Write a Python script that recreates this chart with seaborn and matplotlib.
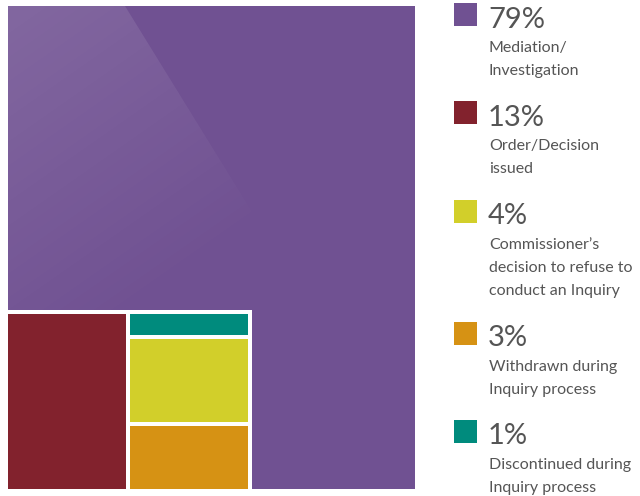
import numpy as np
import matplotlib
matplotlib.use("Agg")
import matplotlib.pyplot as plt
from matplotlib.patches import Polygon
import seaborn as sns

# ---- data ----
categories = ["Mediation/\nInvestigation",
              "Order/Decision\nissued",
              "Commissioner\u2019s\ndecision to refuse to\nconduct an Inquiry",
              "Withdrawn during\nInquiry process",
              "Discontinued during\nInquiry process"]
percents = [79, 13, 4, 3, 1]
pct_labels = ["79%", "13%", "4%", "3%", "1%"]
colors = ["#705192", "#82222d", "#d2cf2a", "#d69214", "#008b7d"]

sns.set_theme(style="white")
plt.rcParams['font.family'] = ['Lato', 'DejaVu Sans']

fig = plt.figure(figsize=(6.4, 4.96), dpi=100)
ax = fig.add_axes([0, 0, 1, 1])
ax.set_xlim(0, 640)
ax.set_ylim(496, 0)
ax.axis("off")

# ---- treemap layout (pixel-like units) ----
X0, Y0, W, H = 8, 6, 407, 483
GAP = 4
block_w = W * 0.6
block_h = H * 0.37
Y1 = Y0 + H

# main rect
ax.bar(X0, H, width=W, bottom=Y0, align="edge", color=colors[0], linewidth=0, zorder=1)

# sheen overlay (light gradient at top-left)
grad_x, grad_y = np.meshgrid(np.linspace(X0, X0 + W, 200), np.linspace(Y0, Y1, 200))
alpha = np.clip(0.13 * (1 - ((grad_x - X0) * 0.7 + (grad_y - Y0)) / 400), 0, 1)
img = np.zeros((200, 200, 4))
img[..., :3] = 1.0
img[..., 3] = alpha
im = ax.imshow(img, extent=(X0, X0 + W, Y1, Y0), zorder=2, interpolation="bilinear")
poly = Polygon([(X0, Y0), (125, Y0), (368, 400), (X0, 400)],
               closed=True, transform=ax.transData, facecolor="none", edgecolor="none")
ax.add_patch(poly)
im.set_clip_path(poly)
ax.set_xlim(0, 640)
ax.set_ylim(496, 0)

# white block area
bx = X0
by = Y1 - block_h
ax.bar(bx, block_h, width=block_w, bottom=by, align="edge", color="white", linewidth=0, zorder=3)

col_w = (block_w - 2 * GAP) / 2
inner_top = by + GAP
inner_h = Y1 - inner_top

# second category: left column
ax.bar(bx, inner_h, width=col_w, bottom=inner_top, align="edge",
       color=colors[1], linewidth=0, zorder=4)

# remaining categories stacked in right column (top: smallest)
stack_order = [4, 2, 3]
stack_total = sum(percents[i] for i in stack_order)
avail = inner_h - GAP * (len(stack_order) - 1)
cy = inner_top
cx = bx + col_w + GAP
for i in stack_order:
    h = avail * percents[i] / stack_total
    ax.bar(cx, h, width=col_w, bottom=cy, align="edge",
           color=colors[i], linewidth=0, zorder=4)
    cy += h + GAP

# ---- legend ----
sq_tops = [3, 101, 200, 322, 420]
SQ = 23
for i in range(len(percents)):
    t = sq_tops[i]
    ax.bar(454, SQ, width=SQ, bottom=t, align="edge", color=colors[i], linewidth=0, zorder=4)
    ax.text(488, t + 24.5, pct_labels[i], fontsize=21, color="#555555",
            va="baseline", ha="left", zorder=5)
    lines = categories[i].split("\n")
    for k, line in enumerate(lines):
        ax.text(489, t + 49 + 23 * k, line, fontsize=11.5, color="#555555",
                va="baseline", ha="left", zorder=5, fontweight="normal")

fig.savefig("out.png", dpi=100)
